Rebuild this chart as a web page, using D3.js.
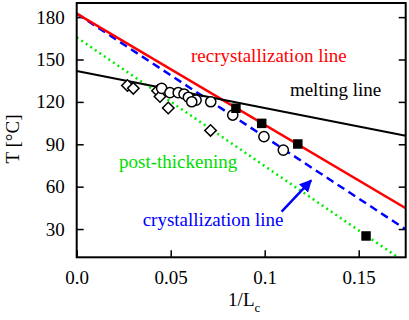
<!DOCTYPE html>
<html>
<head>
<meta charset="utf-8">
<script src="https://cdn.jsdelivr.net/npm/d3@7"></script>
<style>
  body { margin: 0; background: #fff; }
  text { font-family: "Liberation Serif", "DejaVu Serif", "Times New Roman", serif; }
</style>
</head>
<body>
<svg id="chart" width="409" height="320"></svg>
<script>
// axis setup
var xTicks = [0, 0.05, 0.1, 0.15];
var xTickLabels = ['0.0', '0.05', '0.1', '0.15'];
var yTicks = [30, 60, 90, 120, 150, 180];

// fitted lines, endpoints [1/Lc, T]
var recrystLine = [[0, 182.5], [0.175, 44.7]];
var crystLine   = [[0, 182.5], [0.175, 29.8]];
var postLine    = [[0, 165.7], [0.1709, 10]];
var meltLine    = [[0, 141.9], [0.175, 96]];

// measured points
var squaresX  = [0.0847, 0.0984, 0.1176, 0.1539];
var squaresT  = [115.5, 104.8, 90.2, 25.1];
var circlesX  = [0.0452, 0.0496, 0.0540, 0.0571, 0.0594, 0.0635, 0.0612, 0.0713, 0.0830, 0.0996, 0.1099];
var circlesT  = [129.6, 126.5, 126.5, 125.6, 123.3, 121.3, 120.1, 120.1, 110.7, 95.4, 85.9];
var diamondsX = [0.0270, 0.0301, 0.0430, 0.0443, 0.0487, 0.0712];
var diamondsT = [131.6, 129.6, 127.9, 123.8, 115.7, 99.8];

// labels
var labelText = ['recrystallization line', 'melting line', 'post-thickening', 'crystallization line'];
var labelX    = [0.0608, 0.1134, 0.0225, 0.0351];
var labelT    = [148.2, 124.5, 73.2, 32.5];
var labelCol  = ['#ff0000', '#000000', '#00dd00', '#0000ff'];
var arrowFrom = [0.109, 42.3];
var arrowTo   = [0.1247, 64.5];

var margin = {top: 3, right: 3.3, bottom: 62.7, left: 76.7};
var W = 409, H = 320;
var w = W - margin.left - margin.right;
var h = H - margin.top - margin.bottom;

var svg = d3.select('#chart');
var g = svg.append('g').attr('transform', 'translate(' + margin.left + ',' + margin.top + ')');

var x = d3.scaleLinear().domain([0, 0.175]).range([0, w]);
var y = d3.scaleLinear().domain([10, 190]).range([h, 0]);

var defs = svg.append('defs');
defs.append('clipPath').attr('id', 'clip')
    .append('rect').attr('width', w).attr('height', h);
defs.append('marker')
    .attr('id', 'arrowhead')
    .attr('viewBox', '0 0 10 10')
    .attr('refX', 9).attr('refY', 5)
    .attr('markerWidth', 5).attr('markerHeight', 5)
    .attr('markerUnits', 'strokeWidth')
    .attr('orient', 'auto')
  .append('path').attr('d', 'M0,0 L10,5 L0,10 z').attr('fill', '#0000ff');

// axes (inward ticks)
g.append('g').attr('class', 'axis')
    .attr('transform', 'translate(0,' + h + ')')
    .call(d3.axisBottom(x).tickValues(xTicks).tickSize(-7).tickPadding(13)
      .tickFormat(function(d, i) { return xTickLabels[i]; }));
g.append('g').attr('class', 'axis')
    .call(d3.axisLeft(y).tickValues(yTicks).tickSize(-7).tickPadding(12));
g.append('g').attr('class', 'axis')
    .attr('transform', 'translate(' + w + ',0)')
    .call(d3.axisRight(y).tickValues(yTicks).tickSize(-7).tickFormat(''));

g.selectAll('.axis').attr('font-family', null);
g.selectAll('.axis .domain').remove();
g.selectAll('.axis line').attr('stroke', '#000').attr('stroke-width', 1.5);
g.selectAll('.axis text').attr('font-size', 19).attr('fill', '#000');

var line = d3.line().x(function(d) { return x(d[0]); }).y(function(d) { return y(d[1]); });
var plot = g.append('g').attr('clip-path', 'url(#clip)');

plot.append('path').attr('d', line(postLine)).attr('fill', 'none')
    .attr('stroke', '#00ee00').attr('stroke-width', 2.5).attr('stroke-dasharray', '2,3.5');
plot.append('path').attr('d', line(crystLine)).attr('fill', 'none')
    .attr('stroke', '#0000ff').attr('stroke-width', 2.5).attr('stroke-dasharray', '8,5');
plot.append('path').attr('d', line(recrystLine)).attr('fill', 'none')
    .attr('stroke', '#ff0000').attr('stroke-width', 2.5);
plot.append('path').attr('d', line(meltLine)).attr('fill', 'none')
    .attr('stroke', '#000').attr('stroke-width', 2);

// markers
g.selectAll('.diamond').data(diamondsX).enter().append('path')
    .attr('d', d3.symbol().type(d3.symbolSquare).size(66)())
    .attr('transform', function(d, i) { return 'translate(' + x(d) + ',' + y(diamondsT[i]) + ') rotate(45)'; })
    .attr('fill', '#fff').attr('stroke', '#000').attr('stroke-width', 1.5);

g.selectAll('.circ').data(circlesX).enter().append('circle')
    .attr('cx', function(d) { return x(d); })
    .attr('cy', function(d, i) { return y(circlesT[i]); })
    .attr('r', 5.1)
    .attr('fill', '#fff').attr('stroke', '#000').attr('stroke-width', 1.5);

g.selectAll('.sq').data(squaresX).enter().append('path')
    .attr('d', d3.symbol().type(d3.symbolSquare).size(90)())
    .attr('transform', function(d, i) { return 'translate(' + x(d) + ',' + y(squaresT[i]) + ')'; })
    .attr('fill', '#000');

// annotations
g.selectAll('.lbl').data(labelText).enter().append('text')
    .attr('x', function(d, i) { return x(labelX[i]); })
    .attr('y', function(d, i) { return y(labelT[i]); })
    .attr('font-size', 19)
    .attr('fill', function(d, i) { return labelCol[i]; })
    .text(function(d) { return d; });

g.append('line')
    .attr('x1', x(arrowFrom[0])).attr('y1', y(arrowFrom[1]))
    .attr('x2', x(arrowTo[0])).attr('y2', y(arrowTo[1]))
    .attr('stroke', '#0000ff').attr('stroke-width', 2.5)
    .attr('marker-end', 'url(#arrowhead)');

// frame
g.append('rect').attr('width', w).attr('height', h)
    .attr('fill', 'none').attr('stroke', '#000').attr('stroke-width', 2);

// axis titles
var xt = svg.append('text')
    .attr('x', margin.left + w / 2 + 3).attr('y', 306)
    .attr('text-anchor', 'middle').attr('font-size', 19);
xt.append('tspan').text('1/L');
xt.append('tspan').attr('font-size', 13).attr('dy', 6).text('c');

svg.append('text')
    .attr('transform', 'translate(19,139) rotate(-90)')
    .attr('text-anchor', 'middle').attr('font-size', 19)
    .text('T [°C]');
</script>
</body>
</html>
